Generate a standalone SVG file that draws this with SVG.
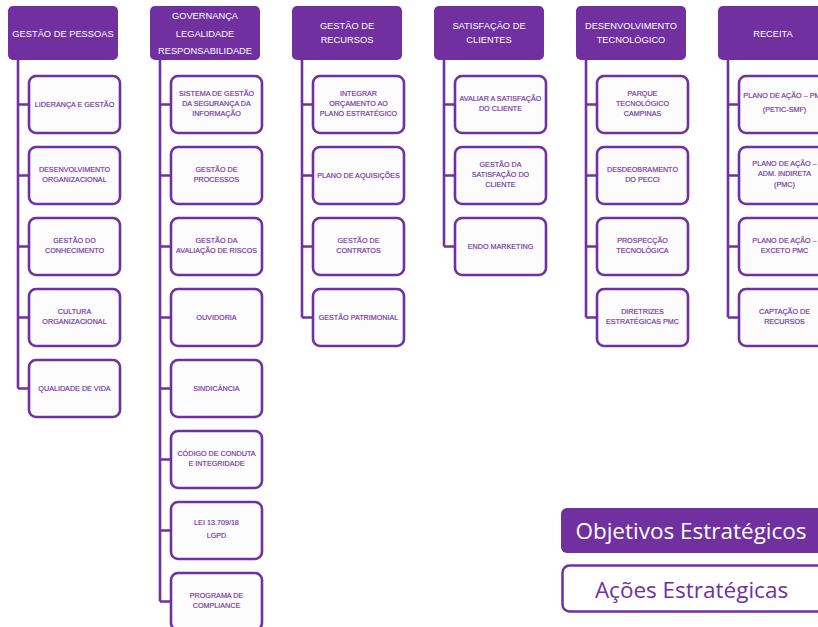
<svg xmlns="http://www.w3.org/2000/svg" width="818" height="627" viewBox="0 0 818 627">
<style>
.hd{fill:#7030A0;}
.ch{fill:#FCFCFC;stroke:#7030A0;stroke-width:2.6;}
.ht{font-family:"Liberation Sans",Arial,sans-serif;font-size:9.3px;fill:#FFFFFF;text-anchor:middle;}
.ct{font-family:"Liberation Sans",Arial,sans-serif;font-size:7.2px;fill:#7030A0;stroke:#7030A0;stroke-width:0.15;text-anchor:middle;}
.cn{fill:none;stroke:#7030A0;stroke-width:2.6;}
.lg{font-family:"Open Sans","Liberation Sans",sans-serif;font-size:22.5px;text-anchor:middle;}
</style>
<rect width="818" height="627" fill="#FFFFFF"/>
<g id="connectors">
<path class="cn" d="M18,60V388.5M18,104.5H29M18,175.5H29M18,246.5H29M18,317.5H29M18,388.5H29"/>
<path class="cn" d="M160,60V601.5M160,104.5H171M160,175.5H171M160,246.5H171M160,317.5H171M160,388.5H171M160,459.5H171M160,530.5H171M160,601.5H171"/>
<path class="cn" d="M302,60V317.5M302,104.5H313M302,175.5H313M302,246.5H313M302,317.5H313"/>
<path class="cn" d="M444,60V246.5M444,104.5H455M444,175.5H455M444,246.5H455"/>
<path class="cn" d="M586,60V317.5M586,104.5H597M586,175.5H597M586,246.5H597M586,317.5H597"/>
<path class="cn" d="M728,60V317.5M728,104.5H739M728,175.5H739M728,246.5H739M728,317.5H739"/>
</g>
<!-- Column 1 -->
<g id="h1"><rect class="hd" x="8" y="6" width="110" height="54" rx="5"/><text class="ht" x="63" y="36.5">GESTÃO DE PESSOAS</text></g>
<g id="c1a"><rect class="ch" x="29" y="76" width="91" height="57" rx="7"/><text class="ct" x="74.5" y="107">LIDERANÇA E GESTÃO</text></g>
<g id="c1b"><rect class="ch" x="29" y="147" width="91" height="57" rx="7"/><text class="ct" x="74.5" y="171.5">DESENVOLVIMENTO<tspan x="74.5" y="181.5">ORGANIZACIONAL</tspan></text></g>
<g id="c1c"><rect class="ch" x="29" y="218" width="91" height="57" rx="7"/><text class="ct" x="74.5" y="242.5">GESTÃO DO<tspan x="74.5" y="252.5">CONHECIMENTO</tspan></text></g>
<g id="c1d"><rect class="ch" x="29" y="289" width="91" height="57" rx="7"/><text class="ct" x="74.5" y="313.5">CULTURA<tspan x="74.5" y="323.5">ORGANIZACIONAL</tspan></text></g>
<g id="c1e"><rect class="ch" x="29" y="360" width="91" height="57" rx="7"/><text class="ct" x="74.5" y="391">QUALIDADE DE VIDA</text></g>
<!-- Column 2 -->
<g id="h2"><rect class="hd" x="150" y="6" width="110" height="54" rx="5"/><text class="ht" x="205" y="19">GOVERNANÇA<tspan x="205" y="36.5">LEGALIDADE</tspan><tspan x="205" y="54">RESPONSABILIDADE</tspan></text></g>
<g id="c2a"><rect class="ch" x="171" y="76" width="91" height="57" rx="7"/><text class="ct" x="216.5" y="96">SISTEMA DE GESTÃO<tspan x="216.5" y="106">DA SEGURANÇA DA</tspan><tspan x="216.5" y="116">INFORMAÇÃO</tspan></text></g>
<g id="c2b"><rect class="ch" x="171" y="147" width="91" height="57" rx="7"/><text class="ct" x="216.5" y="171.5">GESTÃO DE<tspan x="216.5" y="181.5">PROCESSOS</tspan></text></g>
<g id="c2c"><rect class="ch" x="171" y="218" width="91" height="57" rx="7"/><text class="ct" x="216.5" y="242.5">GESTÃO DA<tspan x="216.5" y="252.5">AVALIAÇÃO DE RISCOS</tspan></text></g>
<g id="c2d"><rect class="ch" x="171" y="289" width="91" height="57" rx="7"/><text class="ct" x="216.5" y="320">OUVIDORIA</text></g>
<g id="c2e"><rect class="ch" x="171" y="360" width="91" height="57" rx="7"/><text class="ct" x="216.5" y="391">SINDICÂNCIA</text></g>
<g id="c2f"><rect class="ch" x="171" y="431" width="91" height="57" rx="7"/><text class="ct" x="216.5" y="455.5">CÓDIGO DE CONDUTA<tspan x="216.5" y="465.5">E INTEGRIDADE</tspan></text></g>
<g id="c2g"><rect class="ch" x="171" y="502" width="91" height="57" rx="7"/><text class="ct" x="216.5" y="524.5">LEI 13.709/18<tspan x="216.5" y="538">LGPD</tspan></text></g>
<g id="c2h"><rect class="ch" x="171" y="573" width="91" height="57" rx="7"/><text class="ct" x="216.5" y="597.5">PROGRAMA DE<tspan x="216.5" y="607.5">COMPLIANCE</tspan></text></g>
<!-- Column 3 -->
<g id="h3"><rect class="hd" x="292" y="6" width="110" height="54" rx="5"/><text class="ht" x="347" y="29">GESTÃO DE<tspan x="347" y="42.5">RECURSOS</tspan></text></g>
<g id="c3a"><rect class="ch" x="313" y="76" width="91" height="57" rx="7"/><text class="ct" x="358.5" y="96">INTEGRAR<tspan x="358.5" y="106">ORÇAMENTO AO</tspan><tspan x="358.5" y="116">PLANO ESTRATÉGICO</tspan></text></g>
<g id="c3b"><rect class="ch" x="313" y="147" width="91" height="57" rx="7"/><text class="ct" x="358.5" y="178">PLANO DE AQUISIÇÕES</text></g>
<g id="c3c"><rect class="ch" x="313" y="218" width="91" height="57" rx="7"/><text class="ct" x="358.5" y="242.5">GESTÃO DE<tspan x="358.5" y="252.5">CONTRATOS</tspan></text></g>
<g id="c3d"><rect class="ch" x="313" y="289" width="91" height="57" rx="7"/><text class="ct" x="358.5" y="320">GESTÃO PATRIMONIAL</text></g>
<!-- Column 4 -->
<g id="h4"><rect class="hd" x="434" y="6" width="110" height="54" rx="5"/><text class="ht" x="489" y="29">SATISFAÇÃO DE<tspan x="489" y="42.5">CLIENTES</tspan></text></g>
<g id="c4a"><rect class="ch" x="455" y="76" width="91" height="57" rx="7"/><text class="ct" x="500.5" y="100.5">AVALIAR A SATISFAÇÃO<tspan x="500.5" y="110.5">DO CLIENTE</tspan></text></g>
<g id="c4b"><rect class="ch" x="455" y="147" width="91" height="57" rx="7"/><text class="ct" x="500.5" y="167">GESTÃO DA<tspan x="500.5" y="177">SATISFAÇÃO DO</tspan><tspan x="500.5" y="187">CLIENTE</tspan></text></g>
<g id="c4c"><rect class="ch" x="455" y="218" width="91" height="57" rx="7"/><text class="ct" x="500.5" y="249">ENDO MARKETING</text></g>
<!-- Column 5 -->
<g id="h5"><rect class="hd" x="576" y="6" width="110" height="54" rx="5"/><text class="ht" x="631" y="29">DESENVOLVIMENTO<tspan x="631" y="42.5">TECNOLÓGICO</tspan></text></g>
<g id="c5a"><rect class="ch" x="597" y="76" width="91" height="57" rx="7"/><text class="ct" x="642.5" y="96">PARQUE<tspan x="642.5" y="106">TECNOLÓGICO</tspan><tspan x="642.5" y="116">CAMPINAS</tspan></text></g>
<g id="c5b"><rect class="ch" x="597" y="147" width="91" height="57" rx="7"/><text class="ct" x="642.5" y="171.5">DESDEOBRAMENTO<tspan x="642.5" y="181.5">DO PECCI</tspan></text></g>
<g id="c5c"><rect class="ch" x="597" y="218" width="91" height="57" rx="7"/><text class="ct" x="642.5" y="242.5">PROSPECÇÃO<tspan x="642.5" y="252.5">TECNOLÓGICA</tspan></text></g>
<g id="c5d"><rect class="ch" x="597" y="289" width="91" height="57" rx="7"/><text class="ct" x="642.5" y="313.5">DIRETRIZES<tspan x="642.5" y="323.5">ESTRATÉGICAS PMC</tspan></text></g>
<!-- Column 6 -->
<g id="h6"><rect class="hd" x="718" y="6" width="110" height="54" rx="5"/><text class="ht" x="773" y="36.5">RECEITA</text></g>
<g id="c6a"><rect class="ch" x="739" y="76" width="91" height="57" rx="7"/><text class="ct" x="784.5" y="98">PLANO DE AÇÃO – PMC<tspan x="784.5" y="111.5">(PETIC-SMF)</tspan></text></g>
<g id="c6b"><rect class="ch" x="739" y="147" width="91" height="57" rx="7"/><text class="ct" x="784.5" y="165.5">PLANO DE AÇÃO –<tspan x="784.5" y="175.5">ADM. INDIRETA</tspan><tspan x="784.5" y="186.5">(PMC)</tspan></text></g>
<g id="c6c"><rect class="ch" x="739" y="218" width="91" height="57" rx="7"/><text class="ct" x="784.5" y="242.5">PLANO DE AÇÃO –<tspan x="784.5" y="252.5">EXCETO PMC</tspan></text></g>
<g id="c6d"><rect class="ch" x="739" y="289" width="91" height="57" rx="7"/><text class="ct" x="784.5" y="313.5">CAPTAÇÃO DE<tspan x="784.5" y="323.5">RECURSOS</tspan></text></g>
<!-- Legend -->
<g id="legend-objetivos"><rect x="561" y="508" width="270" height="45" rx="6" fill="#7030A0"/><text class="lg" x="691" y="538.5" fill="#FFFFFF">Objetivos Estratégicos</text></g>
<g id="legend-acoes"><rect x="562.5" y="565.5" width="270" height="46" rx="7" fill="#FFFFFF" stroke="#7030A0" stroke-width="2.5"/><text class="lg" x="691.5" y="597.5" fill="#7030A0">Ações Estratégicas</text></g>
</svg>
